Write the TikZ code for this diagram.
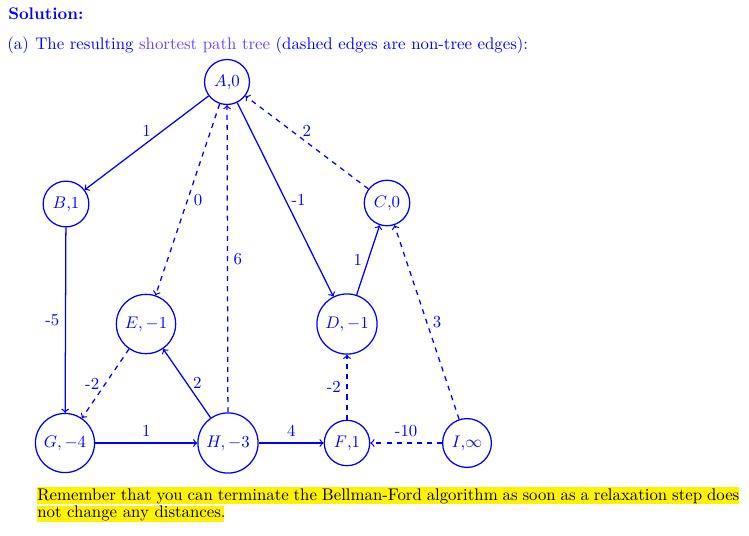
\documentclass[tikz,border=0pt]{standalone}
\begin{document}
\begin{tikzpicture}[x=0.595pt,y=-0.595pt,
  vtx/.style={circle,draw=blue,text=blue,line width=0.75pt,inner sep=3.33pt},
  small/.style={minimum size=26.4pt},
  tree/.style={->,blue,line width=0.75pt},
  ntree/.style={->,blue,line width=0.75pt,dashed},
  lab/.style={text=blue},
  hl/.style={fill=yellow,draw=none}]
\useasboundingbox (0,0) rectangle (749,535);
% header
\node[anchor=base west,inner sep=0,text=blue,font=\bfseries] (sol) at (8,19) {Solution:};
\node[anchor=base west,inner sep=0,text=blue] (enum) at (7,49) {(a)};
\node[anchor=base west,inner sep=0,text=blue] (intro) at (35,49) {The resulting \textcolor[rgb]{0.42,0.25,1}{shortest path tree} (dashed edges are non-tree edges):};
% vertices
\node[vtx,small] (A) at (227,82) {$A$,0};
\node[vtx,small] (B) at (66,204) {$B$,1};
\node[vtx,small] (C) at (387,203) {$C$,0};
\node[vtx] (D) at (347,324) {$D,-1$};
\node[vtx] (E) at (146,324) {$E,-1$};
\node[vtx] (G) at (65,443) {$G,-4$};
\node[vtx] (H) at (228,443) {$H,-3$};
\node[vtx,small] (F) at (347,443) {$F$,1};
\node[vtx,minimum size=28.4pt] (I) at (467,443) {$I$,$\infty$};
% edges
\draw[tree] (A) -- node[lab,above] {1} (B);
\draw[ntree] (A) -- node[lab,right] {0} (E);
\draw[ntree] (H) -- node[lab,right] {6} (A);
\draw[tree] (A) -- node[lab,right] {-1} (D);
\draw[ntree] (C) -- node[lab,above] {2} (A);
\draw[tree] (B) -- node[lab,left] {-5} (G);
\draw[ntree] (E) -- node[lab,left] {-2} (G);
\draw[tree] (H) -- node[lab,right] {2} (E);
\draw[tree] (G) -- node[lab,above] {1} (H);
\draw[tree] (H) -- node[lab,above] {4} (F);
\draw[tree] (D) -- node[lab,left] {1} (C);
\draw[ntree] (F) -- node[lab,left] {-2} (D);
\draw[ntree] (I) -- node[lab,above] {-10} (F);
\draw[ntree] (I) -- node[lab,right] {3} (C);
% remark
\fill[hl] (37,486.5) rectangle (739,503.5);
\fill[hl] (37,506) rectangle (224,522);
\node[anchor=base west,inner sep=0] (rem1) at (37,500) {\hbox to 417.7pt{Remember that you can terminate the Bellman-Ford algorithm as soon as a relaxation step does}};
\node[anchor=base west,inner sep=0] (rem2) at (37,517.5) {not change any distances.};
\end{tikzpicture}
\end{document}
